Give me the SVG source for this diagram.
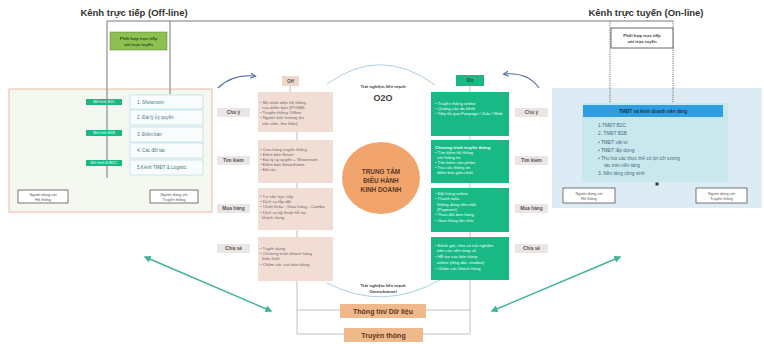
<svg xmlns="http://www.w3.org/2000/svg" width="764" height="344" viewBox="0 0 764 344">
<defs>
<style>
text{font-family:"Liberation Sans",Arial,sans-serif;}
.title{font-size:9.5px;font-weight:bold;fill:#333;}
.sm{font-size:4.3px;fill:#6a6a6a;}
.smw{font-size:4.3px;fill:#e8fff6;}
.smb{font-size:4.3px;fill:#e8fff6;font-weight:bold;}
.lab{font-size:4.8px;font-weight:bold;fill:#555;text-anchor:middle;}
.list{font-size:4.6px;fill:#4a7a8a;}
.rl{font-size:4.8px;fill:#3f6f80;}
.ln{stroke:#555;stroke-width:0.8;fill:none;}
.dot{stroke:#555;stroke-width:0.8;fill:none;stroke-dasharray:1.2 1;}
.cl{stroke:#b0b0b0;stroke-width:0.8;fill:none;}
.pink{fill:#f2ddd4;}
.grn{fill:#19b986;}
.lbox{fill:#ebe6e4;}
.ubox{fill:#fff;stroke:#555;stroke-width:0.8;}
.arc{stroke:#a9cfe2;stroke-width:1;fill:none;}
.garr{stroke:#3fb39c;stroke-width:1.4;fill:none;marker-start:url(#ga);marker-end:url(#ga);}
.barr{stroke:#4e6aa6;stroke-width:1.1;fill:none;marker-end:url(#ba);}
</style>
<marker id="ga" viewBox="0 0 10 10" refX="8" refY="5" markerWidth="5" markerHeight="5" orient="auto-start-reverse"><path d="M0,0L10,5L0,10z" fill="#3fb39c"/></marker>
<marker id="ba" viewBox="0 0 10 10" refX="7" refY="5" markerWidth="6" markerHeight="6" orient="auto"><path d="M0,1L8,5L0,9" fill="none" stroke="#4e6aa6" stroke-width="1.5"/></marker>
</defs>
<rect width="764" height="344" fill="#fff"/>

<g id="titles">
<text class="title" x="134" y="16" text-anchor="middle">Kênh trực tiếp (Off-line)</text>
<text class="title" x="646" y="16" text-anchor="middle">Kênh trực tuyến (On-line)</text>
</g>

<g id="connectors">
<path class="ln" d="M107,21H673"/>
<path class="ln" d="M107,21V178"/>
<path class="ln" d="M170,21V94"/>
<path class="ln" d="M43,190V178H175V190"/>
<path class="ln" d="M165,175V178"/>
<path class="dot" d="M610,21V103"/>
<path class="dot" d="M673,21V103"/>
<path class="dot" d="M590,188V184H721V188"/>
<path class="cl" d="M290,86V92"/>
<path class="cl" d="M297,132V334"/>
<path class="cl" d="M470,86V92"/>
<path class="cl" d="M470,136V334"/>
<path class="cl" d="M297,310H470"/>
<path class="cl" d="M297,334H470"/>
<path class="arc" d="M327,84Q381,45 435,85"/>
<path class="arc" d="M327,283Q383,312 440,280"/>
<path class="barr" d="M218,88Q232,74 255,76"/>
<path class="barr" d="M539,88Q528,72 504,74"/>
<path class="garr" d="M145,257L271,311"/>
<path class="garr" d="M620,257L492,311"/>
</g>

<g id="left-panel">
<rect x="9" y="89" width="203" height="123" fill="#f4f8f0" stroke="#e9a88c" stroke-width="0.8"/>
<path class="ln" d="M107,89V178M170,89V94"/>
</g>

<g id="left-box-coop">
<rect x="110" y="32" width="57" height="18" fill="#8cc152" stroke="#5a7a3a" stroke-width="0.5"/>
<text x="138.5" y="40" font-size="4.3" font-weight="bold" fill="#2f4a1a" text-anchor="middle">Phối hợp trực tiếp</text>
<text x="138.5" y="45.5" font-size="4.3" font-weight="bold" fill="#2f4a1a" text-anchor="middle">với trực tuyến</text>
</g>

<g id="left-list">
<rect x="130" y="95" width="73" height="14" fill="#f8fcfc" stroke="#a9dbe6" stroke-width="0.6"/>
<text class="list" x="137" y="104">1. Showroom</text>
<rect x="130" y="110" width="73" height="15" fill="#f8fcfc" stroke="#a9dbe6" stroke-width="0.6"/>
<text class="list" x="137" y="119">2. Đại lý ủy quyền</text>
<rect x="130" y="127" width="73" height="15" fill="#f8fcfc" stroke="#a9dbe6" stroke-width="0.6"/>
<text class="list" x="137" y="136">3. Điểm bán</text>
<rect x="130" y="143" width="73" height="15" fill="#f8fcfc" stroke="#a9dbe6" stroke-width="0.6"/>
<text class="list" x="137" y="152">4. Các đối tác</text>
<rect x="130" y="160" width="73" height="15" fill="#f8fcfc" stroke="#a9dbe6" stroke-width="0.6"/>
<text class="list" x="137" y="169">5.Kênh TMĐT &amp; Logistic</text>
</g>

<g id="left-tags">
<rect x="86" y="99" width="36" height="6" class="grn"/>
<text x="104" y="103.3" font-size="3.8" fill="#e8fff6" text-anchor="middle">Mô hình B2C</text>
<rect x="86" y="130" width="36" height="6" class="grn"/>
<text x="104" y="134.3" font-size="3.8" fill="#e8fff6" text-anchor="middle">Mô hình B2B</text>
<rect x="86" y="160" width="36" height="6" class="grn"/>
<text x="104" y="164.3" font-size="3.8" fill="#e8fff6" text-anchor="middle">Mô hình B2B2C</text>
</g>

<g id="left-users">
<rect class="ubox" x="18" y="190" width="50" height="13"/>
<text x="43" y="195.5" font-size="3.9" fill="#555" text-anchor="middle">Người dùng với</text>
<text x="43" y="200.5" font-size="3.9" fill="#555" text-anchor="middle">Hệ thống</text>
<rect class="ubox" x="150" y="190" width="48" height="13"/>
<text x="174" y="195.5" font-size="3.9" fill="#555" text-anchor="middle">Người dùng với</text>
<text x="174" y="200.5" font-size="3.9" fill="#555" text-anchor="middle">Truyền thông</text>
</g>

<g id="right-panel">
<rect x="552" y="88" width="210" height="120" fill="#ddecf4"/>
<path class="dot" d="M610,88V103M673,88V103"/>
<rect x="582" y="103" width="146" height="79" fill="#c9e8ee"/>
<rect x="583" y="105" width="140" height="12" fill="#2f9ee0"/>
<text x="653" y="112.6" font-size="4.8" font-weight="bold" fill="#123a5a" text-anchor="middle">TMĐT và kinh doanh nền tảng</text>
<text class="rl" x="598" y="127">1.TMĐT B2C</text>
<text class="rl" x="598" y="135">2. TMĐT B2B</text>
<text class="rl" x="598" y="143.5">•  TMĐT vật tư</text>
<text class="rl" x="598" y="152">•  TMĐT lắp dựng</text>
<text class="rl" x="598" y="160">•  Thu hút các thực thể có lợi ích tương</text>
<text class="rl" x="604" y="166.5">tác trên nền tảng</text>
<text class="rl" x="598" y="175">3. Nền tảng cộng sinh</text>
<rect x="655.5" y="182.5" width="3" height="3" fill="#333"/>
</g>

<g id="right-box-coop">
<rect x="611" y="28" width="62" height="20" fill="#fff" stroke="#444" stroke-width="0.8"/>
<text x="642" y="36.5" font-size="4.3" font-weight="bold" fill="#444" text-anchor="middle">Phối hợp trực tiếp</text>
<text x="642" y="42.5" font-size="4.3" font-weight="bold" fill="#444" text-anchor="middle">với trực tuyến</text>
</g>

<g id="right-users">
<rect class="ubox" x="563" y="188" width="52" height="15"/>
<text x="589" y="194.5" font-size="3.9" fill="#555" text-anchor="middle">Người dùng với</text>
<text x="589" y="199.5" font-size="3.9" fill="#555" text-anchor="middle">Hệ thống</text>
<rect class="ubox" x="696" y="188" width="51" height="15"/>
<text x="721.5" y="194.5" font-size="3.9" fill="#555" text-anchor="middle">Người dùng với</text>
<text x="721.5" y="199.5" font-size="3.9" fill="#555" text-anchor="middle">Truyền thông</text>
</g>

<g id="left-stage-labels">
<rect class="lbox" x="217" y="108" width="33" height="9"/>
<text class="lab" x="233.5" y="114.2">Chú ý</text>
<rect class="lbox" x="217" y="156" width="33" height="9"/>
<text class="lab" x="233.5" y="162.2">Tìm kiếm</text>
<rect class="lbox" x="217" y="204" width="33" height="9"/>
<text class="lab" x="233.5" y="210.2">Mua hàng</text>
<rect class="lbox" x="217" y="244" width="33" height="9"/>
<text class="lab" x="233.5" y="250.2">Chia sẻ</text>
</g>

<g id="right-stage-labels">
<rect class="lbox" x="515" y="108" width="33" height="9"/>
<text class="lab" x="531.5" y="114.2">Chú ý</text>
<rect class="lbox" x="515" y="156" width="33" height="9"/>
<text class="lab" x="531.5" y="162.2">Tìm kiếm</text>
<rect class="lbox" x="515" y="204" width="33" height="9"/>
<text class="lab" x="531.5" y="210.2">Mua hàng</text>
<rect class="lbox" x="515" y="244" width="33" height="9"/>
<text class="lab" x="531.5" y="250.2">Chia sẻ</text>
</g>

<g id="off-column">
<rect x="282" y="76" width="17" height="10" fill="#f0d6ca"/>
<text class="lab" x="290.5" y="82.6">Off</text>
<rect class="pink" x="258" y="92" width="75" height="40"/>
<text class="sm" x="260" y="103.5">• Bộ nhận diện hệ thống</text>
<text class="sm" x="262" y="108.5">của điểm bán (POSM)</text>
<text class="sm" x="260" y="113.5">• Truyền thông Offline</text>
<text class="sm" x="260" y="119">• Người ảnh hưởng (tư</text>
<text class="sm" x="262" y="125">vấn viên, thợ thầu)</text>
<rect class="pink" x="258" y="140" width="75" height="43"/>
<text class="sm" x="260" y="150.5">• Cửa hàng truyền thống</text>
<text class="sm" x="260" y="155.5">• Điểm bán Smart</text>
<text class="sm" x="260" y="160.5">• Đại lý ủy quyền + Showroom</text>
<text class="sm" x="260" y="165.5">• Điểm bán Smarthome</text>
<text class="sm" x="260" y="171">• Đối tác</text>
<rect class="pink" x="258" y="188" width="75" height="42"/>
<text class="sm" x="260" y="197.5">• Tư vấn trực tiếp</text>
<text class="sm" x="260" y="202.5">• Dịch vụ lắp đặt</text>
<text class="sm" x="260" y="208">• Chiết khấu - Giao hàng - Combo</text>
<text class="sm" x="260" y="213.5">• Dịch vụ kỹ thuật hỗ trợ</text>
<text class="sm" x="262" y="219">khách hàng</text>
<rect class="pink" x="258" y="237" width="75" height="44"/>
<text class="sm" x="260" y="249.5">• Tuyển dụng</text>
<text class="sm" x="260" y="254.5">• Chương trình khách hàng</text>
<text class="sm" x="262" y="259.5">thân thiết</text>
<text class="sm" x="260" y="265.5">• Chăm sóc sau bán hàng</text>
</g>

<g id="on-column">
<rect x="456" y="75" width="28" height="11" class="grn"/>
<text x="470" y="82.2" font-size="4.8" font-weight="bold" fill="#0d4a35" text-anchor="middle">On</text>
<rect class="grn" x="431" y="92" width="78" height="44"/>
<text class="smw" x="435" y="104.5">• Truyền thông online</text>
<text class="smw" x="435" y="109.5">• Quảng cáo đa kênh</text>
<text class="smw" x="435" y="114.5">• Tiếp thị qua Fanpage / Zalo / Web</text>
<rect class="grn" x="431" y="140" width="78" height="43"/>
<text class="smb" x="435" y="148.5">Chương trình truyền thông</text>
<text class="smw" x="435" y="153.5">• Tìm kiếm hệ thống</text>
<text class="smw" x="437" y="158.5">với thông tin</text>
<text class="smw" x="435" y="163.5">• Tìm kiếm sản phẩm</text>
<text class="smw" x="435" y="168.5">• Tra cứu thông tin</text>
<text class="smw" x="437" y="173.5">điểm bán gần nhất</text>
<rect class="grn" x="431" y="188" width="78" height="44"/>
<text class="smw" x="435" y="194.5">• Đặt hàng online</text>
<text class="smw" x="435" y="200">• Thanh toán</text>
<text class="smw" x="437" y="205.5">không dùng tiền mặt</text>
<text class="smw" x="437" y="211">(Payment)</text>
<text class="smw" x="435" y="216">• Theo dõi đơn hàng</text>
<text class="smw" x="435" y="221.5">• Giao hàng tận nhà</text>
<rect class="grn" x="431" y="237" width="78" height="43"/>
<text class="smw" x="435" y="246.5">• Đánh giá, chia sẻ trải nghiệm</text>
<text class="smw" x="437" y="252">trên các nền tảng số</text>
<text class="smw" x="435" y="257.5">• Hỗ trợ sau bán hàng</text>
<text class="smw" x="437" y="264">online (tổng đài, chatbot)</text>
<text class="smw" x="435" y="270">• Chăm sóc khách hàng</text>
</g>

<g id="center">
<text x="383" y="88" font-size="4.3" font-weight="bold" fill="#444" text-anchor="middle">Trải nghiệm liền mạch</text>
<text x="383" y="101" font-size="9" font-weight="bold" fill="#444" text-anchor="middle">O2O</text>
<ellipse cx="381" cy="178" rx="39" ry="36" fill="#f1a56c"/>
<text x="381" y="173.8" font-size="6.4" font-weight="bold" fill="#5b3825" text-anchor="middle">TRUNG TÂM</text>
<text x="381" y="182.8" font-size="6.4" font-weight="bold" fill="#5b3825" text-anchor="middle">ĐIỀU HÀNH</text>
<text x="381" y="191.8" font-size="6.4" font-weight="bold" fill="#5b3825" text-anchor="middle">KINH DOANH</text>
<text x="383" y="286.5" font-size="4.3" font-weight="bold" fill="#444" text-anchor="middle">Trải nghiệm liền mạch</text>
<text x="383" y="292.5" font-size="4.3" font-weight="bold" fill="#444" text-anchor="middle">Omnichannel</text>
</g>

<g id="data">
<rect x="340" y="304" width="86" height="14" fill="#f0b98c"/>
<text x="383" y="313.6" font-size="7" font-weight="bold" fill="#5b3520" text-anchor="middle">Thông tin/ Dữ liệu</text>
</g>
<g id="media">
<rect x="344" y="328" width="79" height="14" fill="#f0b98c"/>
<text x="383.5" y="337.6" font-size="7" font-weight="bold" fill="#5b3520" text-anchor="middle">Truyền thông</text>
</g>
</svg>
